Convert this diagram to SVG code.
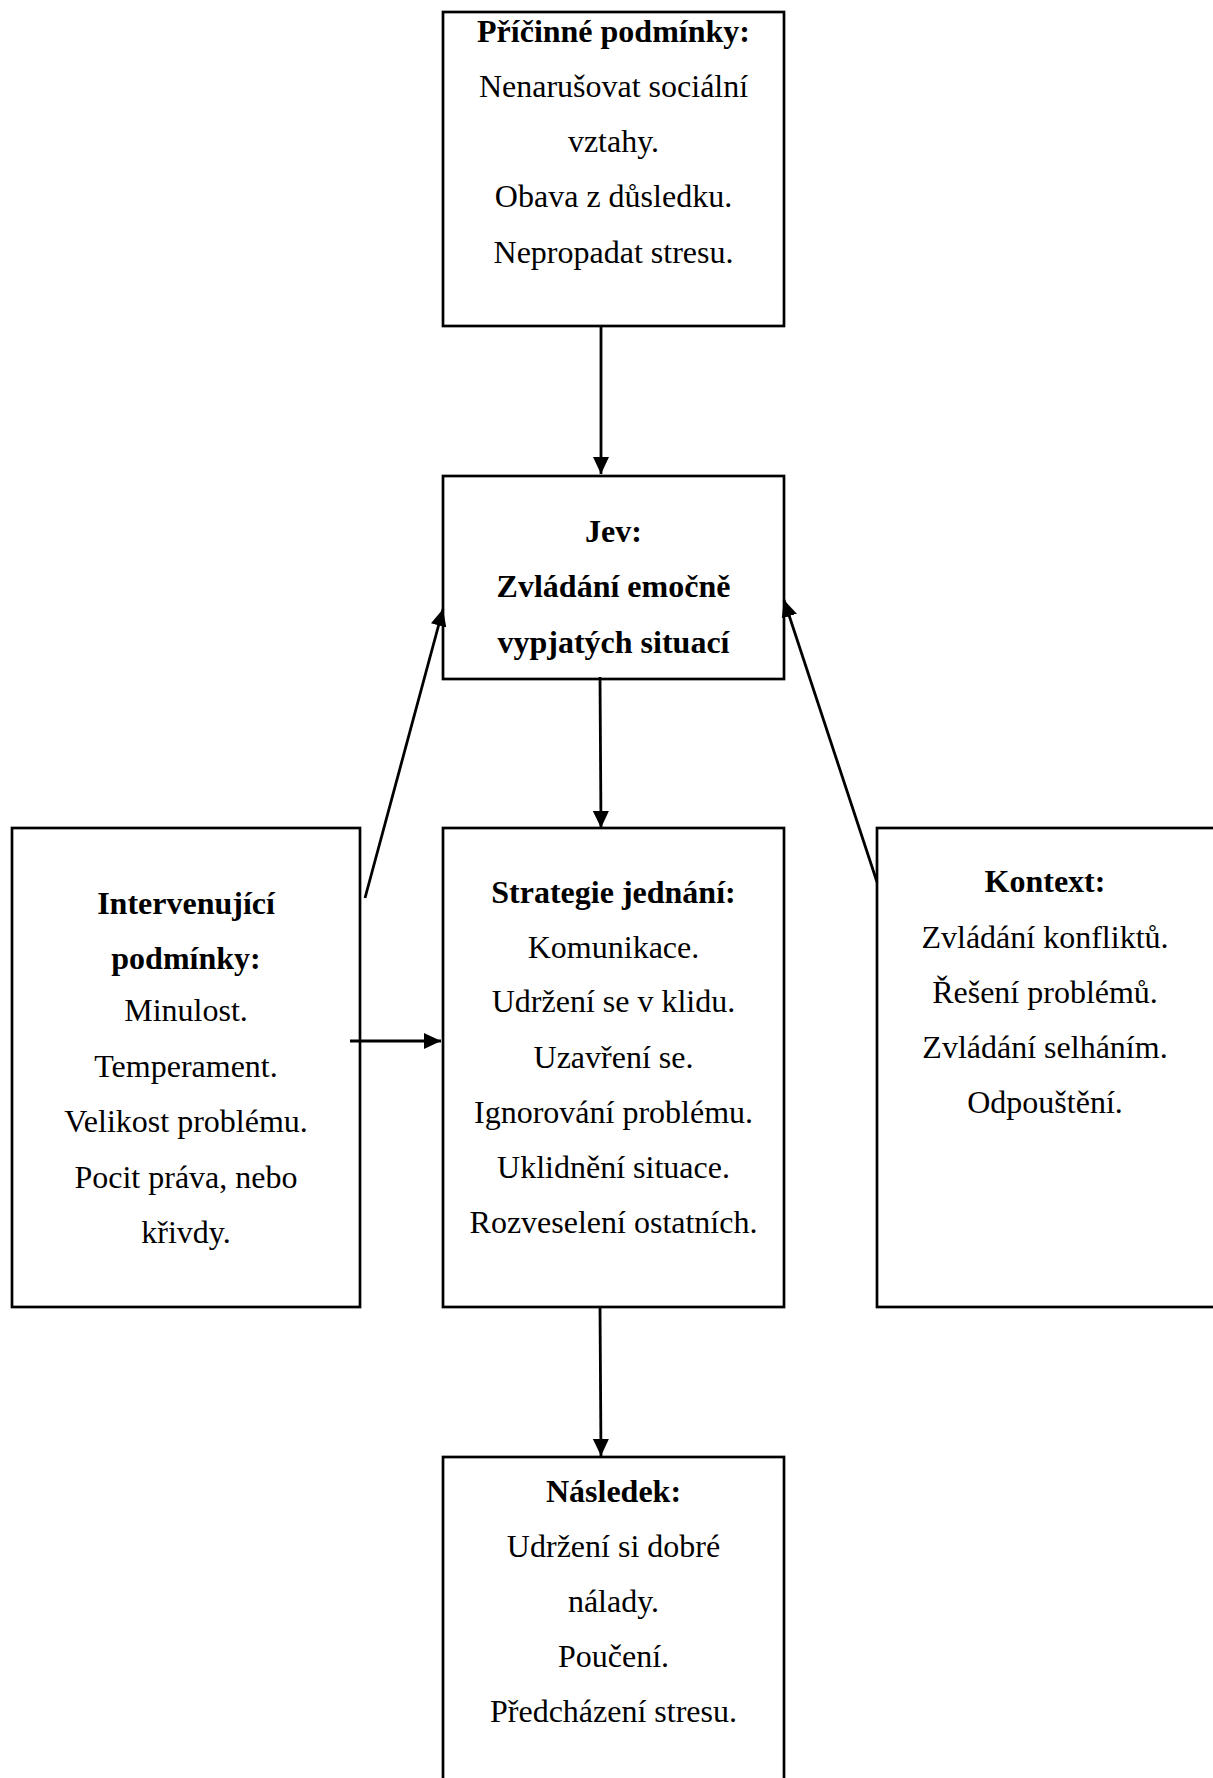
<svg xmlns="http://www.w3.org/2000/svg" width="1213" height="1778" viewBox="0 0 1213 1778">
<style>
.box{fill:#fff;stroke:#000;stroke-width:2.7}
text{font-family:"Liberation Serif","Times New Roman",serif;font-size:32px;fill:#000;text-anchor:middle}
.b{font-weight:bold}
.c{stroke:#000;stroke-width:2.8;fill:none}
</style>
<defs>
<marker id="ah" markerWidth="17" markerHeight="16" refX="17" refY="8" orient="auto" markerUnits="userSpaceOnUse">
<path d="M0,0 L17,8 L0,16 Z" fill="#000"/>
</marker>
</defs>
<rect width="1213" height="1778" fill="#fff"/>
<g id="n-pricinne">
<rect class="box" x="443" y="12" width="341" height="314"/>
<text x="613.5" y="42" class="b">Příčinné podmínky:</text>
<text x="613.5" y="97">Nenarušovat sociální</text>
<text x="613.5" y="152">vztahy.</text>
<text x="613.5" y="207">Obava z důsledku.</text>
<text x="613.5" y="263">Nepropadat stresu.</text>
</g>
<g id="n-jev">
<rect class="box" x="443" y="476" width="341" height="203"/>
<text x="613.5" y="542" class="b">Jev:</text>
<text x="613.5" y="597" class="b">Zvládání emočně</text>
<text x="613.5" y="653" class="b">vypjatých situací</text>
</g>
<g id="n-intervenujici">
<rect class="box" x="12" y="828" width="348" height="479"/>
<text x="186" y="914" class="b">Intervenující</text>
<text x="186" y="969" class="b">podmínky:</text>
<text x="186" y="1021">Minulost.</text>
<text x="186" y="1077">Temperament.</text>
<text x="186" y="1132">Velikost problému.</text>
<text x="186" y="1188">Pocit práva, nebo</text>
<text x="186" y="1243">křivdy.</text>
</g>
<g id="n-strategie">
<rect class="box" x="443" y="828" width="341" height="479"/>
<text x="613.5" y="903" class="b">Strategie jednání:</text>
<text x="613.5" y="958">Komunikace.</text>
<text x="613.5" y="1012">Udržení se v klidu.</text>
<text x="613.5" y="1068">Uzavření se.</text>
<text x="613.5" y="1123">Ignorování problému.</text>
<text x="613.5" y="1178">Uklidnění situace.</text>
<text x="613.5" y="1233">Rozveselení ostatních.</text>
</g>
<g id="n-kontext">
<rect class="box" x="877" y="828" width="340" height="479"/>
<text x="1045" y="892" class="b">Kontext:</text>
<text x="1045" y="948">Zvládání konfliktů.</text>
<text x="1045" y="1003">Řešení problémů.</text>
<text x="1045" y="1058">Zvládání selháním.</text>
<text x="1045" y="1113">Odpouštění.</text>
</g>
<g id="n-nasledek">
<rect class="box" x="443" y="1457" width="341" height="330"/>
<text x="613.5" y="1502" class="b">Následek:</text>
<text x="613.5" y="1557">Udržení si dobré</text>
<text x="613.5" y="1612">nálady.</text>
<text x="613.5" y="1667">Poučení.</text>
<text x="613.5" y="1722">Předcházení stresu.</text>
</g>
<g id="connectors">
<line class="c" x1="601" y1="326" x2="601" y2="474" marker-end="url(#ah)"/>
<line class="c" x1="600" y1="677" x2="601" y2="828" marker-end="url(#ah)"/>
<line class="c" x1="600" y1="1307" x2="601" y2="1456" marker-end="url(#ah)"/>
<line class="c" x1="350" y1="1041" x2="441" y2="1041" marker-end="url(#ah)"/>
<line class="c" x1="365" y1="898" x2="443" y2="609" marker-end="url(#ah)"/>
<line class="c" x1="877" y1="882" x2="784" y2="600" marker-end="url(#ah)"/>
</g>
</svg>
